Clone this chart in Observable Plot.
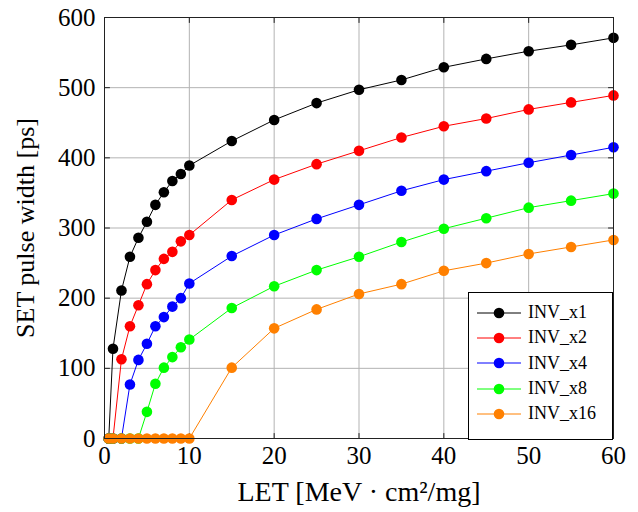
<!DOCTYPE html>
<html>
<head>
<meta charset="utf-8">
<script src="https://cdn.jsdelivr.net/npm/d3@7"></script>
<script src="https://cdn.jsdelivr.net/npm/@observablehq/plot@0.6"></script>
<style>
  html, body { margin: 0; padding: 0; background: white; }
  #wrap { position: relative; width: 638px; height: 512px; font-family: "Liberation Serif", serif; }
  #legend { position: absolute; left: 468px; top: 292px; width: 143px; height: 139px; border: 1px solid #000; background: white; box-sizing: content-box; padding-top: 7px; }
  .row { height: 25.3px; display: flex; align-items: center; font-size: 18px; }
  .row svg { margin-left: 8px; margin-right: 7px; }
</style>
</head>
<body>
<div id="wrap"><div id="legend"></div></div>
<script>
const LET = [0.5, 1, 2, 3, 4, 5, 6, 7, 8, 9, 10, 15, 20, 25, 30, 35, 40, 45, 50, 55, 60];
const INV_x1  = [0, 128, 211, 259, 286, 309, 333, 351, 367, 377, 389, 424, 454, 478, 497, 511, 529, 541, 552, 561, 571];
const INV_x2  = [0, 0, 113, 160, 190, 220, 240, 256, 266, 281, 290, 340, 369, 391, 410, 429, 445, 456, 469, 479, 489];
const INV_x4  = [0, 0, 0, 77, 112, 135, 160, 173, 188, 200, 221, 260, 290, 313, 333, 353, 369, 381, 393, 404, 415];
const INV_x8  = [0, 0, 0, 0, 0, 38, 78, 101, 116, 130, 141, 186, 217, 240, 259, 280, 299, 314, 329, 339, 349];
const INV_x16 = [0, 0, 0, 0, 0, 0, 0, 0, 0, 0, 0, 101, 157, 184, 206, 220, 239, 250, 263, 273, 283];

const seriesNames = ["INV_x1", "INV_x2", "INV_x4", "INV_x8", "INV_x16"];
const seriesValues = [INV_x1, INV_x2, INV_x4, INV_x8, INV_x16];
const seriesColors = ["#000000", "#ff0000", "#0000ff", "#00ff00", "#ff8000"];
const xTicks = [0, 10, 20, 30, 40, 50, 60];
const yTicks = [0, 100, 200, 300, 400, 500, 600];
const xLabel = "LET [MeV · cm²/mg]";
const yLabel = "SET pulse width [ps]";

const FONT = "Liberation Serif";
const rows = seriesNames.flatMap((s, i) => LET.map((x, j) => ({series: s, x, y: seriesValues[i][j]})));

const tickShape = {draw(context, l) { context.moveTo(0, 0); context.lineTo(0, -l); }};
const tickOpts = {length: 5, anchor: "start", shape: tickShape, stroke: "#222", strokeWidth: 1};

const seriesMarks = seriesNames.flatMap(s => {
  const d = rows.filter(r => r.series === s);
  return [
    Plot.line(d, {x: "x", y: "y", stroke: "series", strokeWidth: 1}),
    Plot.dot(d, {x: "x", y: "y", fill: "series", r: 5.3})
  ];
});

const chart = Plot.plot({
  width: 638,
  height: 512,
  marginLeft: 104,
  marginRight: 25,
  marginTop: 17,
  marginBottom: 74,
  style: {fontFamily: "'Liberation Serif', serif", fontSize: "25px", background: "white", color: "black"},
  x: {domain: [0, 60]},
  y: {domain: [0, 600]},
  color: {domain: seriesNames, range: seriesColors},
  marks: [
    Plot.gridX(xTicks, {stroke: "#b3b3b3", strokeOpacity: 1, strokeWidth: 1}),
    Plot.gridY(yTicks, {stroke: "#b3b3b3", strokeOpacity: 1, strokeWidth: 1}),
    Plot.vector(xTicks, {x: d => d, y: 0, rotate: 0, ...tickOpts}),
    Plot.vector(xTicks, {x: d => d, y: 600, rotate: 180, ...tickOpts}),
    Plot.vector(yTicks, {y: d => d, x: 0, rotate: 90, ...tickOpts}),
    Plot.vector(yTicks, {y: d => d, x: 60, rotate: -90, ...tickOpts}),
    Plot.axisX(xTicks, {tickSize: 0, tickPadding: 8, label: null, fontSize: 25, fontFamily: FONT, fontVariant: "normal"}),
    Plot.axisY(yTicks, {tickSize: 0, tickPadding: 9, label: null, fontSize: 25, fontFamily: FONT, fontVariant: "normal"}),
    Plot.text([xLabel], {frameAnchor: "bottom", dy: 62, fontSize: 28, fontFamily: FONT, textAnchor: "middle", text: d => d}),
    Plot.text([yLabel], {frameAnchor: "left", dx: -79, rotate: -90, fontSize: 26, fontFamily: FONT, textAnchor: "middle", text: d => d}),
    ...seriesMarks,
    Plot.frame({stroke: "#222", strokeWidth: 1})
  ]
});

const wrap = document.getElementById("wrap");
wrap.insertBefore(chart, wrap.firstChild);

const legend = document.getElementById("legend");
seriesNames.forEach((s, i) => {
  const row = document.createElement("div");
  row.className = "row";
  row.innerHTML = `<svg width="44" height="14"><line x1="0" y1="7" x2="44" y2="7" stroke="${seriesColors[i]}" stroke-width="1"/><circle cx="22" cy="7" r="5.3" fill="${seriesColors[i]}"/></svg><span>${s}</span>`;
  legend.appendChild(row);
});
</script>
</body>
</html>
